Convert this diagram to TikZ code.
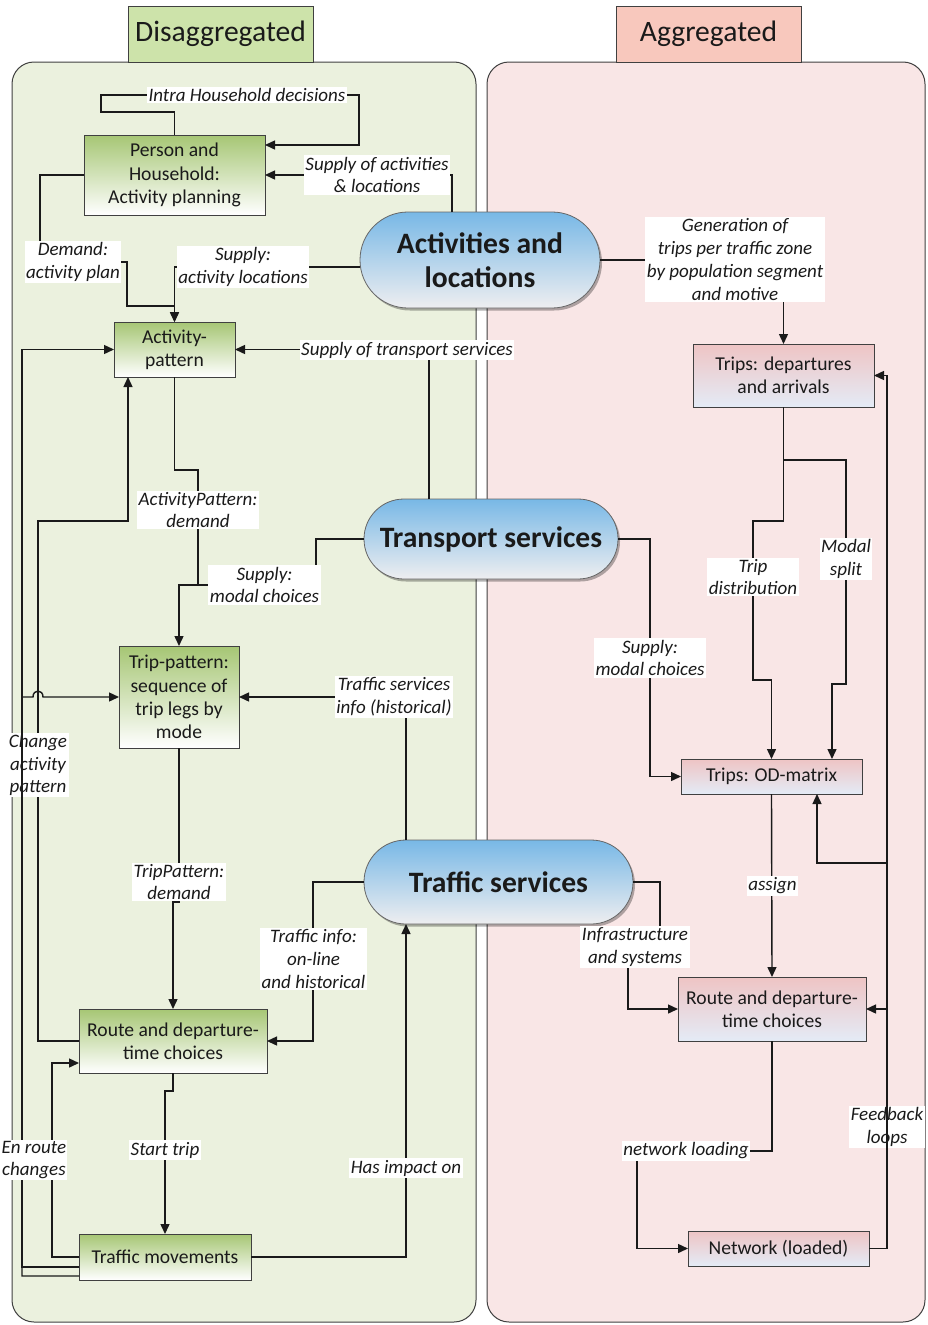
\documentclass[tikz,border=0pt]{standalone}
\usepackage{fontspec}
\setmainfont{Carlito}
\usetikzlibrary{arrows.meta,shadows}
\definecolor{pgreen}{HTML}{EBF1DE}
\definecolor{ppink}{HTML}{F9E6E6}
\definecolor{tabgreen}{HTML}{CDE3AA}
\definecolor{tabpink}{HTML}{F8C8BD}
\definecolor{boxgreen}{HTML}{A6C674}
\definecolor{boxpinktop}{HTML}{EEC4C4}
\definecolor{boxpinkbot}{HTML}{E4EBF6}
\definecolor{elltop}{HTML}{78B8E6}
\definecolor{ellbot}{HTML}{EEEEF0}
\definecolor{edgec}{HTML}{404040}
\definecolor{ink}{HTML}{1A1A1A}
\newcommand\boxfnt{\fontsize{19.6}{23.3}\selectfont}
\newcommand\lblfnt{\fontsize{19}{22.7}\selectfont\itshape}
\newcommand\bigfnt{\fontsize{29.6}{34.5}\selectfont}
\tikzset{
  gbox/.style={draw=edgec, line width=1pt, top color=boxgreen, bottom color=white, align=center, inner sep=0pt, outer sep=0pt, font=\boxfnt, text=ink},
  pbox/.style={draw=edgec, line width=1pt, top color=boxpinktop, bottom color=boxpinkbot, align=center, inner sep=0pt, outer sep=0pt, font=\boxfnt, text=ink},
  stad/.style={draw=gray!80!black, line width=0.8pt, top color=elltop, bottom color=ellbot, align=center, inner sep=0pt, outer sep=0pt, font=\bigfnt\bfseries, text=ink, drop shadow={shadow xshift=2pt, shadow yshift=-2.5pt, opacity=0.3, fill=black}},
  tab/.style={draw=edgec, line width=1pt, inner sep=0pt, outer sep=0pt, font=\bigfnt, text=ink, minimum width=185pt, minimum height=56pt},
  conn/.style={draw=ink, line width=1.4pt},
  arr/.style={conn, -{Triangle[length=10pt,width=9pt]}},
  lbl/.style={fill=white, inner sep=1.5pt, align=center, font=\lblfnt, text=ink}
}
\begin{document}
\begin{tikzpicture}[x=1pt,y=-1pt]
\useasboundingbox (0,0) rectangle (927,1325);
% panels
\draw[draw=edgec, line width=1pt, fill=pgreen, rounded corners=22pt] (12,62) rectangle (476,1322);
\draw[draw=edgec, line width=1pt, fill=ppink, rounded corners=22pt] (487,62) rectangle (925,1322);
\node[tab, fill=tabgreen] (dis) at (220.5,34) {Disaggregated};
\node[tab, fill=tabpink] (agg) at (708.5,34) {Aggregated};

% left boxes
\node[gbox, minimum width=181pt, minimum height=80pt] (person) at (174.5,175) {Person and\\Household:\\Activity planning};
\node[gbox, minimum width=121pt, minimum height=55pt] (actpat) at (174.5,349.5) {Activity-\\pattern};
\node[gbox, minimum width=120pt, minimum height=102pt] (trippat) at (179,697) {Trip-pattern:\\sequence of\\trip legs by\\mode};
\node[gbox, minimum width=188pt, minimum height=64pt] (routeL) at (173,1041) {Route and departure-\\time choices};
\node[gbox, minimum width=172pt, minimum height=46pt] (trafmov) at (165,1257) {Traffic movements};

% right boxes
\node[pbox, minimum width=181pt, minimum height=63pt] (tripsDA) at (783.5,375.5) {Trips: departures\\and arrivals};
\node[pbox, minimum width=181pt, minimum height=35pt] (od) at (771.5,776.5) {Trips: OD-matrix};
\node[pbox, minimum width=188pt, minimum height=64pt] (routeR) at (772,1009) {Route and departure-\\time choices};
\node[pbox, minimum width=181pt, minimum height=35pt] (net) at (778.5,1248.5) {Network (loaded)};

% stadiums
\node[stad, minimum width=240pt, minimum height=96pt, rounded corners=47.9pt] (actloc) at (480,260) {Activities and\\locations};
\node[stad, minimum width=254pt, minimum height=80pt, rounded corners=39.9pt] (transp) at (491,539) {Transport services};
\node[stad, minimum width=269pt, minimum height=84pt, rounded corners=41.9pt] (traffic) at (498.5,882) {Traffic services};

% connectors (left side)
\draw[arr] (person.north) -- (174.5,112) -- (101,112) -- (101,95) -- (359,95) -- (359,145) -- ([yshift=30pt]person.east);
\draw[arr] ([xshift=-28pt]actloc.north) -- (452,175) -- (person.east);
\draw[arr] (person.west) -- (40,175) -- (40,262) -- (127,262) -- (127,306) -- (174.5,306) -- (actpat.north);
\draw[arr] ([yshift=-7pt]actloc.west) -- (174.5,267) -- (actpat.north);
\draw[arr] ([xshift=-62pt]transp.north) -- (429,349.5) -- (actpat.east);
\draw[arr] (actpat.south) -- (174.5,470) -- (198,470) -- (198,585) -- (179,585) -- (trippat.north);
\draw[conn] (transp.west) -- (316,539) -- (316,585) -- (198,585);
\draw[arr] ([xshift=-92.5pt]traffic.north) -- (406,697) -- (trippat.east);
\draw[arr] (trippat.south) -- (179,902) -- (173,902) -- (routeL.north);
\draw[arr] (traffic.west) -- (313,882) -- (313,1041) -- (routeL.east);
\draw[arr] (routeL.south) -- (173,1091) -- (165,1091) -- (trafmov.north);
\draw[arr] (trafmov.east) -- (406,1257) -- ([xshift=-92.5pt]traffic.south);
\draw[arr] (trafmov.west) -- (52,1257) -- (52,1063) -- ([yshift=-22pt]routeL.west);
\draw[arr] (routeL.west) -- (38,1041) -- (38,521) -- (128,521) -- ([xshift=-46.5pt]actpat.south);

% connectors (right side)
\draw[arr] (actloc.east) -- (783.5,260) -- (tripsDA.north);
\draw[arr] (tripsDA.south) -- (783.5,460) -- (783.5,521) -- (753,521) -- (753,680) -- (771.5,680) -- (od.north);
\draw[arr] (783.5,460) -- (846,460) -- (846,684) -- (832,684) -- ([xshift=60.5pt]od.north);
\draw[arr] (transp.east) -- (650,539) -- (650,776.5) -- (od.west);
\draw[arr] (od.south) -- (routeR.north);
\draw[arr] (traffic.east) -- (660,882) -- (660,947) -- (628,947) -- (628,1009) -- (routeR.west);
\draw[arr] (routeR.south) -- (772,1151) -- (637,1151) -- (637,1248.5) -- (net.west);

% labels
\node[lbl] (l_intra) at (247,95) {Intra Household decisions};
\node[lbl] (l_supal) at (377,175) {Supply of activities\\\& locations};
\node[lbl] (l_dem) at (73,262) {Demand:\\activity plan};
\node[lbl] (l_supl) at (243,267) {Supply:\\activity locations};
\node[lbl] (l_gen) at (735,259.5) {Generation of\\trips per traffic zone\\by population segment\\and motive};
\node[lbl] (l_supts) at (407,350) {Supply of transport services};
\node[lbl] (l_apd) at (198,510) {ActivityPattern:\\demand};
\node[lbl] (l_smcl) at (264.5,585) {Supply:\\modal choices};
\node[lbl] (l_tdist) at (753,577) {Trip\\distribution};
\node[lbl] (l_msplit) at (846,559) {Modal\\split};
\node[lbl] (l_smcr) at (650,658) {Supply:\\modal choices};
\node[lbl] (l_tsinfo) at (394,697) {Traffic services\\info (historical)};
\node[lbl] (l_cap) at (38,765) {Change\\activity\\pattern};
\node[lbl] (l_tpd) at (179,882) {TripPattern:\\demand};
\node[lbl] (l_tinfo) at (313.5,959) {Traffic info:\\on-line\\and historical};
\node[lbl] (l_infra) at (635,947) {Infrastructure\\and systems};
\node[lbl] (l_assign) at (772.5,886) {assign};
\node[lbl] (l_start) at (165,1150) {Start trip};
\node[lbl] (l_impact) at (406,1168) {Has impact on};
\node[lbl] (l_netl) at (686,1151) {network loading};
\node[lbl] (l_feed) at (887,1127) {Feedback\\loops};

% lines drawn over labels
\draw[arr] ([yshift=-10pt]trafmov.west) -- (22,1267) -- (22,349.5) -- (actpat.west);
\draw[arr] ([yshift=-19pt]trafmov.west) -- (22,1276) -- (22,697) -- (33,697) .. controls (33,689) and (43,689) .. (43,697) -- (trippat.west);
\draw[conn, line width=1.8pt] (net.east) -- (887,1248.5) -- (887,375.5);
\draw[arr] (887,380) -- (887,375.5) -- (tripsDA.east);
\draw[arr] (887,863) -- (817,863) -- ([xshift=45.5pt]od.south);
\draw[arr] (887,1009) -- (routeR.east);
\node[lbl, anchor=west, inner sep=1pt] (l_enroute) at (0.5,1160) {En route\\changes};
\end{tikzpicture}
\end{document}
